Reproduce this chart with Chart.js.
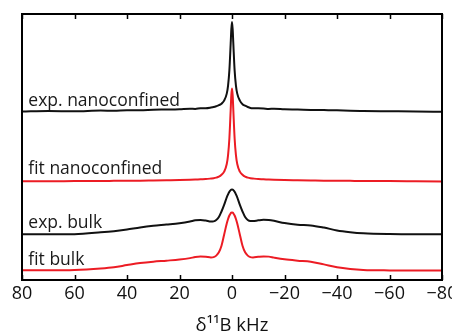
<!DOCTYPE html>
<html>
<head>
<meta charset="utf-8">
<script src="https://cdn.jsdelivr.net/npm/chart.js@4/dist/chart.umd.min.js"></script>
<style>
  html, body { margin: 0; padding: 0; background: #fff; }
  #wrap { width: 452px; height: 333px; }
</style>
</head>
<body>
<div id="wrap"><canvas id="spectra"></canvas></div>
<script>
// frequency axis, kHz (denser near the central line)
const shift = [80, 70, 60, 50, 45, 40, 35, 30, 25, 20, 16, 14, 12, 10, 8, 7, 6, 5, 4, 3, 2, 1.5, 1, 0.5, 0.25, 0,
  -0.25, -0.5, -1, -1.5, -2, -3, -4, -5, -6, -7, -8, -10, -12, -14, -16, -20, -25, -30, -35, -40, -45, -50, -60, -70, -80];

// stacked intensities (a.u.), top to bottom
const expNano = [1.672, 1.677, 1.675, 1.682, 1.680, 1.685, 1.684, 1.690, 1.692, 1.695, 1.700, 1.698, 1.704, 1.705, 1.712, 1.717, 1.725, 1.735, 1.750, 1.780, 1.850, 1.930, 2.080, 2.350, 2.490, 2.560,
  2.490, 2.350, 2.080, 1.930, 1.850, 1.780, 1.745, 1.730, 1.717, 1.708, 1.705, 1.704, 1.702, 1.698, 1.700, 1.695, 1.692, 1.688, 1.686, 1.684, 1.680, 1.678, 1.675, 1.672, 1.670];
const fitNano = [0.980, 0.980, 0.982, 0.983, 0.984, 0.985, 0.986, 0.988, 0.990, 0.992, 0.995, 0.997, 1.000, 1.002, 1.007, 1.010, 1.016, 1.025, 1.044, 1.075, 1.152, 1.240, 1.405, 1.690, 1.835, 1.900,
  1.835, 1.690, 1.405, 1.240, 1.152, 1.075, 1.044, 1.025, 1.016, 1.010, 1.007, 1.002, 1.000, 0.997, 0.995, 0.992, 0.990, 0.988, 0.986, 0.985, 0.984, 0.983, 0.982, 0.980, 0.978];
const expBulk = [0.453, 0.453, 0.455, 0.473, 0.485, 0.502, 0.522, 0.538, 0.550, 0.563, 0.580, 0.592, 0.596, 0.590, 0.580, 0.582, 0.595, 0.625, 0.680, 0.745, 0.820, 0.850, 0.875, 0.892, 0.897, 0.898,
  0.897, 0.892, 0.875, 0.850, 0.820, 0.745, 0.680, 0.625, 0.595, 0.585, 0.585, 0.592, 0.597, 0.595, 0.587, 0.565, 0.548, 0.542, 0.520, 0.492, 0.475, 0.464, 0.456, 0.454, 0.454];
const fitBulk = [0.097, 0.097, 0.100, 0.115, 0.127, 0.148, 0.168, 0.182, 0.192, 0.203, 0.217, 0.228, 0.233, 0.230, 0.224, 0.227, 0.242, 0.275, 0.340, 0.450, 0.560, 0.605, 0.640, 0.662, 0.668, 0.670,
  0.668, 0.662, 0.640, 0.605, 0.560, 0.450, 0.340, 0.275, 0.242, 0.227, 0.224, 0.230, 0.234, 0.232, 0.222, 0.205, 0.192, 0.182, 0.155, 0.127, 0.110, 0.100, 0.095, 0.094, 0.094];

const traceNames = ['exp. nanoconfined', 'fit nanoconfined', 'exp. bulk', 'fit bulk'];
const xTicks = [80, 60, 40, 20, 0, -20, -40, -60, -80];

const BLACK = '#111111';
const RED = '#ec1c24';

function points(ys) {
  return shift.map((x, i) => ({ x: x, y: ys[i] }));
}

function trace(label, ys, color) {
  return {
    label: label,
    data: points(ys),
    borderColor: color,
    borderWidth: 2,
    pointRadius: 0,
    fill: false,
    cubicInterpolationMode: 'monotone'
  };
}

// box around the plot plus inward ticks on top and bottom
const frame = {
  id: 'frame',
  afterDraw(chart) {
    const { ctx, chartArea: a, scales } = chart;
    const xs = scales.x;
    ctx.save();
    ctx.strokeStyle = '#000';
    ctx.lineWidth = 1.5;
    xTicks.forEach(v => {
      const px = Math.round(xs.getPixelForValue(v)) + 0.5;
      ctx.beginPath();
      ctx.moveTo(px, a.top);
      ctx.lineTo(px, a.top + 5);
      ctx.moveTo(px, a.bottom);
      ctx.lineTo(px, a.bottom - 5);
      ctx.stroke();
    });
    ctx.lineWidth = 2;
    ctx.strokeRect(a.left, a.top, a.right - a.left, a.bottom - a.top);
    ctx.restore();
  }
};

// trace names written at the left of each spectrum
const traceLabels = {
  id: 'traceLabels',
  afterDatasetsDraw(chart, args, opts) {
    const { ctx, scales } = chart;
    ctx.save();
    ctx.font = opts.font;
    ctx.fillStyle = '#1a1a1a';
    ctx.textAlign = 'left';
    ctx.textBaseline = 'alphabetic';
    traceNames.forEach((name, i) => {
      ctx.fillText(name, scales.x.getPixelForValue(opts.x), scales.y.getPixelForValue(opts.y[i]));
    });
    ctx.restore();
  }
};

new Chart(document.getElementById('spectra'), {
  type: 'line',
  data: {
    datasets: [
      trace(traceNames[0], expNano, BLACK),
      trace(traceNames[1], fitNano, RED),
      trace(traceNames[2], expBulk, BLACK),
      trace(traceNames[3], fitBulk, RED)
    ]
  },
  options: {
    responsive: true,
    maintainAspectRatio: false,
    animation: false,
    layout: { padding: { left: 22, right: 10, top: 14, bottom: 0 } },
    plugins: {
      legend: { display: false },
      tooltip: { enabled: false },
      traceLabels: {
        font: '17.5px "Open Sans"',
        x: 77.6,
        y: [1.73, 1.05, 0.513, 0.153]
      }
    },
    scales: {
      x: {
        type: 'linear',
        reverse: true,
        min: -80,
        max: 80,
        afterBuildTicks(scale) {
          scale.ticks = xTicks.map(v => ({ value: v }));
        },
        afterFit(scale) {
          scale.height = 53;
          scale.paddingLeft = 0;
          scale.paddingRight = 0;
        },
        grid: { display: false, drawTicks: false },
        border: { display: false },
        ticks: {
          padding: 3,
          color: '#111',
          font: { family: 'Open Sans', size: 18 },
          maxRotation: 0,
          callback: v => String(v).replace('-', '\u2212')
        },
        title: {
          display: true,
          text: '\u03b4\u00b9\u00b9B kHz',
          color: '#111',
          font: { family: 'Open Sans', size: 18.5 },
          padding: { top: 0, bottom: -4 }
        }
      },
      y: {
        display: false,
        min: 0,
        max: 2.64
      }
    }
  },
  plugins: [frame, traceLabels]
});
</script>
</body>
</html>
